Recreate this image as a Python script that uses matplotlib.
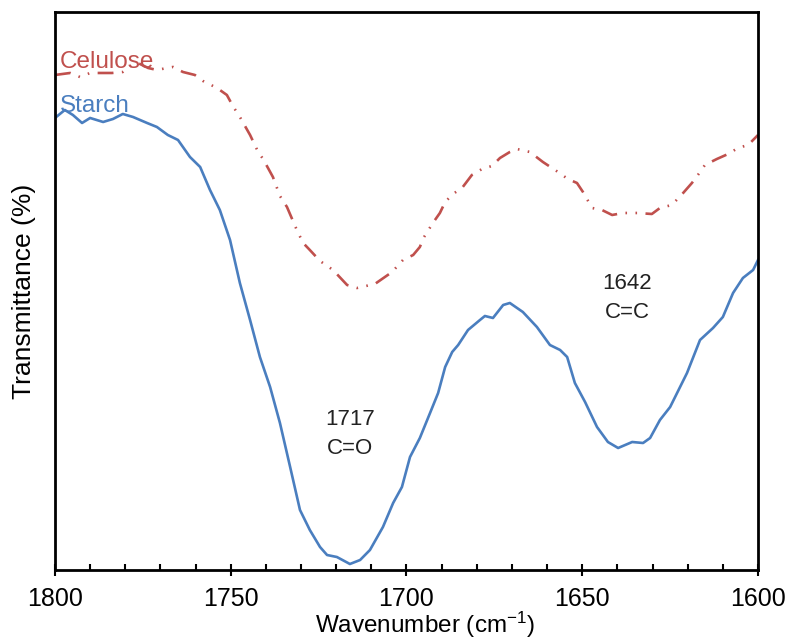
import numpy as np
import matplotlib
matplotlib.use("Agg")
import matplotlib.pyplot as plt
from matplotlib.ticker import MultipleLocator

plt.rcParams['font.family'] = ['Liberation Sans', 'DejaVu Sans']
plt.rcParams['mathtext.fontset'] = 'custom'
plt.rcParams['mathtext.rm'] = 'Liberation Sans'
plt.rcParams['mathtext.it'] = 'Liberation Sans'

# FTIR spectra, 1800-1600 cm-1 (transmittance in arbitrary %)
starch_wn = [1800.0, 1797.2, 1794.9, 1792.3, 1790.0, 1786.3, 1783.5, 1780.7, 1777.8, 1773.8,
             1771.0, 1767.9, 1765.0, 1761.6, 1758.7, 1755.9, 1753.1, 1750.2, 1747.4, 1744.5,
             1741.7, 1738.8, 1736.0, 1733.1, 1730.3, 1727.5, 1724.6, 1722.6, 1719.8, 1716.1,
             1713.2, 1710.4, 1706.7, 1703.8, 1701.3, 1699.0, 1696.2, 1693.3, 1691.0, 1689.0,
             1687.0, 1685.3, 1682.5, 1679.1, 1677.7, 1675.4, 1672.5, 1670.6, 1666.9, 1662.9,
             1659.2, 1656.3, 1654.3, 1652.1, 1649.2, 1645.8, 1642.7, 1639.8, 1635.8, 1632.7,
             1630.7, 1627.9, 1625.0, 1620.2, 1616.5, 1612.8, 1610.0, 1607.1, 1604.3, 1601.4,
             1600.0]
starch_t = [90.4, 92.0, 91.0, 89.4, 90.4, 89.6, 90.2, 91.2, 90.6, 89.4,
            88.6, 87.0, 86.0, 82.6, 80.6, 76.0, 72.0, 66.0, 57.4, 50.0,
            42.6, 36.6, 29.4, 20.6, 12.0, 8.0, 4.6, 3.0, 2.6, 1.2,
            2.0, 4.0, 8.6, 13.4, 16.6, 22.6, 26.4, 31.4, 35.4, 40.6,
            43.6, 45.0, 48.0, 50.0, 50.8, 50.4, 53.0, 53.4, 51.6, 48.6,
            45.0, 44.0, 42.6, 37.4, 33.6, 28.6, 25.6, 24.4, 25.6, 25.4,
            26.4, 30.0, 32.6, 39.4, 46.0, 48.4, 50.6, 55.4, 58.4, 60.0,
            62.0]

cel_wn = [1800.0, 1795.7, 1792.9, 1790.0, 1786.6, 1783.8, 1780.7, 1778.1, 1776.4, 1773.5,
          1771.0, 1768.1, 1766.4, 1763.6, 1760.2, 1757.9, 1753.9, 1751.1, 1749.4, 1747.4,
          1744.5, 1742.2, 1740.8, 1738.0, 1736.0, 1734.0, 1731.2, 1729.4, 1727.5, 1724.6,
          1720.9, 1716.9, 1714.1, 1709.0, 1704.1, 1701.0, 1698.1, 1696.2, 1695.0, 1692.5,
          1690.5, 1689.0, 1686.8, 1684.2, 1681.4, 1678.5, 1675.7, 1673.4, 1670.6, 1668.6,
          1664.9, 1661.2, 1656.9, 1654.1, 1651.5, 1649.8, 1647.2, 1644.4, 1641.5, 1638.4,
          1634.4, 1630.2, 1627.9, 1624.5, 1621.3, 1618.8, 1617.1, 1615.1, 1611.7, 1608.5,
          1605.7, 1602.8, 1600.0]
cel_t = [99.0, 99.4, 98.6, 99.4, 99.4, 99.4, 99.6, 101.0, 101.4, 100.4,
         100.0, 100.4, 100.6, 99.6, 99.0, 97.8, 96.4, 95.0, 92.8, 90.6,
         87.0, 83.6, 82.2, 78.6, 74.8, 72.6, 68.0, 65.4, 64.0, 61.8,
         60.0, 57.0, 56.4, 57.2, 59.6, 62.0, 63.0, 64.6, 66.6, 69.4,
         71.4, 73.6, 75.2, 76.4, 79.0, 80.2, 80.8, 82.4, 83.6, 84.2,
         83.6, 81.6, 79.6, 78.2, 77.4, 75.6, 72.4, 72.0, 71.0, 71.4,
         71.4, 71.2, 72.4, 73.0, 75.4, 77.4, 79.0, 81.0, 82.2, 83.2,
         84.4, 85.0, 87.0]

blue = '#4a7ebf'
red = '#c0504d'

fig = plt.figure(figsize=(7.91, 6.44), dpi=100)
ax = fig.add_axes([0.0695, 0.1149, 0.8888, 0.8665])

ax.plot(starch_wn, starch_t, color=blue, lw=1.9, solid_joinstyle='round')
ax.plot(cel_wn, cel_t, color=red, lw=1.9, dash_joinstyle='round',
        linestyle=(0, (6, 3.2, 0.6, 3.2, 0.6, 3.2)))

ax.set_xlim(1800, 1600)
ax.set_ylim(0, 111.6)

# series names and band assignments
ax.text(1798.6, 101.6, 'Celulose', color=red, fontsize=17.5, va='center', ha='left')
ax.text(1798.6, 92.8, 'Starch', color=blue, fontsize=17.5, va='center', ha='left')
ax.text(1716.1, 27.2, '1717\nC=O', fontsize=16, ha='center', va='center',
        linespacing=1.45, color='#222222')
ax.text(1637.3, 54.4, '1642\nC=C', fontsize=16, ha='center', va='center',
        linespacing=1.45, color='#222222')

ax.xaxis.set_major_locator(MultipleLocator(50))
ax.xaxis.set_minor_locator(MultipleLocator(10))
ax.tick_params(axis='x', which='major', direction='inout', length=9, width=1.5,
               labelsize=18, pad=8)
ax.tick_params(axis='x', which='minor', direction='in', length=4.5, width=1.5)
ax.set_yticks([])

for s in ax.spines.values():
    s.set_linewidth(2)

ax.set_xlabel(r'Wavenumber (cm$^{-1}$)', fontsize=17.5)
ax.xaxis.set_label_coords(0.526, -0.072)
ax.set_ylabel('Transmittance (%)', fontsize=19)
ax.yaxis.set_label_coords(-0.027, 0.5)

fig.savefig('out.png', dpi=100)
